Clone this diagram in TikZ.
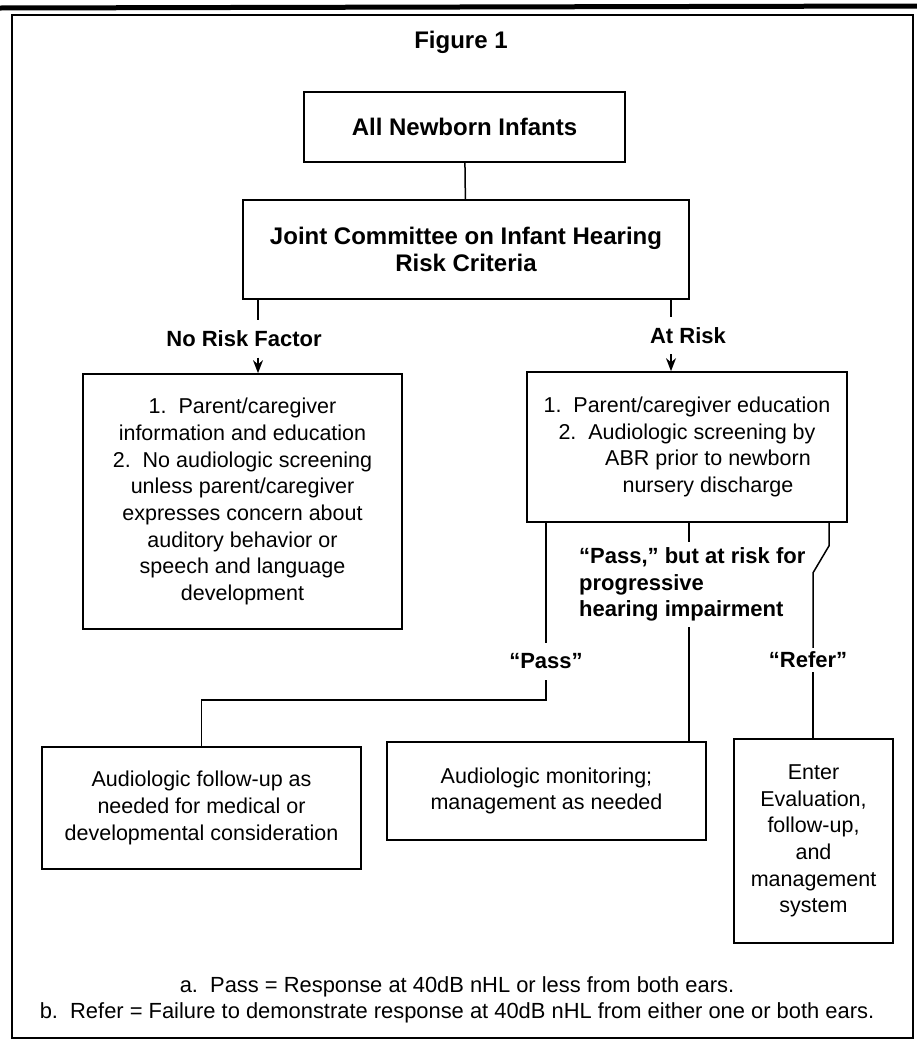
\documentclass[tikz,border=0pt]{standalone}
\usepackage{fontspec}
\setmainfont{Liberation Sans}
\usetikzlibrary{arrows.meta}
\newcommand\boxfont{\fontsize{21.5}{26.7}\selectfont}
\newcommand\notefont{\fontsize{21.9}{26}\selectfont}
\newcommand\headfont{\bfseries\fontsize{24}{26.5}\selectfont}
\newcommand\tagfont{\bfseries\fontsize{22}{26.5}\selectfont}

\begin{document}
\begin{tikzpicture}[x=1pt,y=-1pt]
    \useasboundingbox (0,0) rectangle (917,1042);
    \draw[line width=5pt] (0,8) -- (917,6);
    \draw[line width=2.2pt] (12,15) rectangle (913,1038);

    \node[font=\headfont] (title) at (461,42) {Figure 1};

    \begin{scope}[every node/.style={draw,line width=1.7pt,inner sep=0pt,align=center,font=\boxfont}]
      \node[font=\headfont,minimum width=321pt,minimum height=70pt] (all) at (464.5,127) {All Newborn Infants};
      \node[font=\headfont,minimum width=446pt,minimum height=99pt] (jc) at (466,249.5) {Joint Committee on Infant Hearing\\Risk Criteria};
      \node[minimum width=319pt,minimum height=255pt] (nobox) at (242.5,501.5) {1.\ \ Parent/caregiver\\information and education\\2.\ \ No audiologic screening\\unless parent/caregiver\\expresses concern about\\auditory behavior or\\speech and language\\development};
      \node[minimum width=320pt,minimum height=150pt] (atbox) at (687,447) {1.\ \ Parent/caregiver education\\2.\ \ Audiologic screening by\\\hspace*{42pt}ABR prior to newborn\\\hspace*{42pt}nursery discharge};
      \node[minimum width=319pt,minimum height=122pt] (fu) at (201.5,808) {Audiologic follow-up as\\needed for medical or\\developmental consideration};
      \node[minimum width=319pt,minimum height=98pt] (mon) at (546.5,791) {Audiologic monitoring;\\management as needed};
      \node[minimum width=159pt,minimum height=204pt] (ev) at (813.5,841) {Enter\\Evaluation,\\follow-up,\\and\\management\\system};
    \end{scope}

    \begin{scope}[every node/.style={font=\tagfont,inner sep=0pt}]
      \node[minimum height=37pt] (norisk) at (244,339) {No Risk Factor};
      \node[minimum height=37pt] (atrisk) at (688,335.5) {At Risk};
      \node[minimum height=37pt] (pass) at (546,661.5) {“Pass”};
      \node[minimum height=24pt] (refer) at (808,660) {“Refer”};
      \node[align=left,minimum height=85pt,anchor=north west] (passrisk) at (579,542) {“Pass,” but at risk for\\progressive\\hearing impairment};
    \end{scope}

    \node[font=\notefont,align=center,inner sep=0pt] (notes) at (457,1000) {a.\ \ Pass = Response at 40dB nHL or less from both ears.\\b.\ \ Refer = Failure to demonstrate response at 40dB nHL from either one or both ears.};

    \begin{scope}[>={Stealth[length=13pt,width=10pt]}, line width=1.5pt]
      \coordinate (nx) at (258,0);
      \coordinate (ax) at (671,0);
      \coordinate (px) at (546,0);
      \coordinate (mx) at (689,0);
      \coordinate (rx) at (829,0);
      \coordinate (rx2) at (813,0);
      \draw (all) -- (jc);
      \draw (jc.south -| nx) -- (norisk.north -| nx);
      \draw[->] (norisk.south -| nx) -- (nobox.north -| nx);
      \draw (jc.south -| ax) -- (atrisk.north -| ax);
      \draw[->] (atrisk.south -| ax) -- (atbox.north -| ax);
      \draw (atbox.south -| px) -- (pass.north -| px);
      \draw (pass.south -| px) -- ++(0,20) -| (fu.north);
      \draw (atbox.south -| mx) -- (passrisk.north -| mx);
      \draw (passrisk.south -| mx) -- (mon.north -| mx);
      \draw (atbox.south -| rx) -- ++(0,23) -- ++(-16,27) -- (refer.north -| rx2);
      \draw (refer.south -| rx2) -- (ev.north -| rx2);
    \end{scope}
\end{tikzpicture}
\end{document}
